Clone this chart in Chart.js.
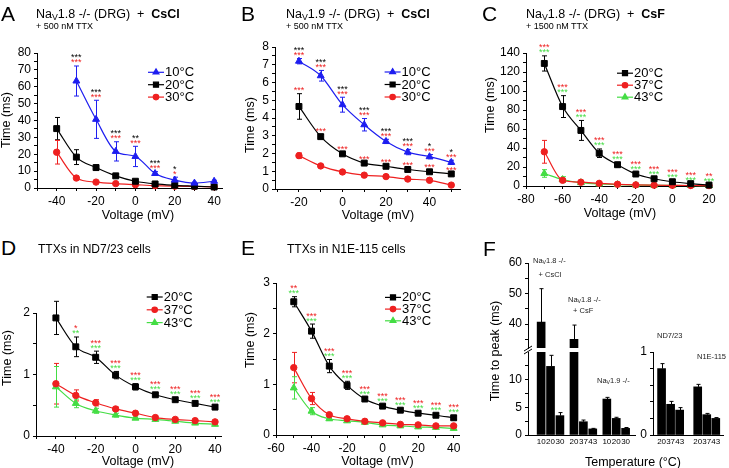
<!DOCTYPE html>
<html>
<head>
<meta charset="utf-8">
<title>Time to peak vs voltage and temperature</title>
<script src="https://cdn.jsdelivr.net/npm/chart.js@4.4.1/dist/chart.umd.min.js"></script>
<style>
  html, body { margin: 0; padding: 0; background: #fff; }
  #fig { position: relative; width: 729px; height: 468px; overflow: hidden;
         font-family: Arial, "Liberation Sans", Helvetica, sans-serif; color: #000; }
  #fig canvas { position: absolute; }
  .txt { position: absolute; white-space: nowrap; line-height: 1; z-index: 2; }
  .txt sub { font-size: 70%; vertical-align: -0.2em; line-height: 0; }
</style>
</head>
<body>
<div id="fig"></div>
<script>
// ---- data (ms, mean and sem) ----
// A: Nav1.8 -/- DRG, CsCl
const voltA10 = [-30, -20, -10, 0, 10, 20, 30, 40];
const voltA = [-40, -30, -20, -10, 0, 10, 20, 30, 40];
const timeA10 = [63.4, 40.7, 21.7, 18.7, 8.6, 4.7, 2.9, 4.0];
const semA10 = [8.9, 11.3, 5.7, 6.0, 1.1, 1.7, 0.6, 0.6];
const timeA20 = [35.2, 18.3, 12.1, 7.2, 4.0, 2.4, 1.6, 1.1, 0.6];
const semA20 = [6.6, 4.4, 1.6, 1.0, 0.6, 0.4, 0.3, 0.2, 0.2];
const timeA30 = [21.2, 5.9, 3.5, 2.6, 2.0, 1.4, 1.1, 0.9, 0.7];
const semA30 = [7.0, 1.1, 0.4, 0.3, 0.3, 0.2, 0.2, 0.2, 0.1];
const starsA10vs20 = ['***', '***', '***', '**', '***', '*', '', ''];
const starsA10vs30 = ['***', '***', '***', '***', '***', '*', '', ''];

// B: Nav1.9 -/- DRG, CsCl
const voltB = [-20, -10, 0, 10, 20, 30, 40, 50];
const timeB10 = [7.2, 6.38, 4.75, 3.62, 2.68, 2.08, 1.82, 1.5];
const semB10 = [0.15, 0.3, 0.42, 0.35, 0.12, 0.15, 0.12, 0.12];
const timeB20 = [4.65, 2.95, 1.98, 1.46, 1.28, 1.1, 0.97, 0.85];
const semB20 = [0.72, 0.12, 0.06, 0.05, 0.05, 0.05, 0.05, 0.05];
const timeB30 = [1.88, 1.3, 0.96, 0.78, 0.7, 0.56, 0.49, 0.22];
const semB30 = [0.15, 0.05, 0.05, 0.05, 0.05, 0.05, 0.05, 0.1];
const starsB10vs20 = ['***', '***', '***', '***', '***', '***', '*', '*'];
const starsB10vs30 = ['***', '***', '***', '***', '***', '***', '***', '***'];
const starsB20vs30 = ['***', '***', '***', '***', '***', '***', '***', '***'];

// C: Nav1.8 -/- DRG, CsF
const voltC = [-70, -60, -50, -40, -30, -20, -10, 0, 10, 20];
const timeC20 = [129, 83.6, 58.5, 34.5, 22.4, 12.6, 7.6, 4.5, 2.5, 1.0];
const semC20 = [8, 11.5, 10.5, 4.5, 2.5, 1.5, 1, 0.8, 0.5, 0.3];
const timeC37 = [36, 6.0, 4.0, 2.8, 1.8, 1.2, 0.9, 0.7, 0.5, 0.4];
const semC37 = [12, 1.5, 0.8, 0.5, 0.3, 0.2, 0.2, 0.1, 0.1, 0.1];
const timeC43 = [13.2, 6.8, 3.5, 2.1, 1.5, 1.0, 0.8, 0.6, 0.5, 0.4];
const semC43 = [4, 3, 0.8, 0.4, 0.3, 0.2, 0.2, 0.1, 0.1, 0.1];
const starsC20vs37 = ['***', '***', '***', '***', '***', '***', '***', '***', '***', '**'];
const starsC20vs43 = ['***', '***', '***', '***', '***', '***', '***', '***', '***', '***'];

// D: TTXs in ND7/23
const voltD = [-40, -30, -20, -10, 0, 10, 20, 30, 40];
const timeD20 = [1.92, 1.45, 1.28, 0.99, 0.8, 0.67, 0.59, 0.53, 0.47];
const semD20 = [0.27, 0.16, 0.1, 0.06, 0.05, 0.03, 0.03, 0.03, 0.03];
const timeD37 = [0.85, 0.66, 0.54, 0.44, 0.37, 0.3, 0.27, 0.25, 0.23];
const semD37 = [0.33, 0.09, 0.05, 0.03, 0.03, 0.03, 0.02, 0.02, 0.02];
const timeD43 = [0.8, 0.53, 0.41, 0.34, 0.29, 0.27, 0.24, 0.21, 0.19];
const semD43 = [0.33, 0.07, 0.04, 0.03, 0.02, 0.02, 0.02, 0.02, 0.02];
const starsD20vs37 = ['', '*', '***', '***', '***', '***', '***', '***', '***'];
const starsD20vs43 = ['', '**', '***', '***', '***', '***', '***', '***', '***'];

// E: TTXs in N1E-115
const voltE = [-50, -40, -30, -20, -10, 0, 10, 20, 30, 40];
const timeE20 = [2.63, 2.05, 1.36, 0.98, 0.71, 0.57, 0.49, 0.43, 0.39, 0.34];
const semE20 = [0.1, 0.14, 0.13, 0.08, 0.03, 0.03, 0.03, 0.03, 0.03, 0.04];
const timeE37 = [1.33, 0.72, 0.4, 0.32, 0.27, 0.24, 0.21, 0.2, 0.18, 0.18];
const semE37 = [0.3, 0.12, 0.03, 0.02, 0.02, 0.02, 0.02, 0.02, 0.02, 0.02];
const timeE43 = [0.93, 0.47, 0.32, 0.28, 0.25, 0.2, 0.18, 0.16, 0.15, 0.13];
const semE43 = [0.22, 0.07, 0.03, 0.02, 0.02, 0.02, 0.02, 0.02, 0.02, 0.02];
const starsE20vs37 = ['**', '***', '***', '***', '***', '***', '***', '***', '***', '***'];
const starsE20vs43 = ['***', '***', '***', '***', '***', '***', '***', '***', '***', '***'];

// F: time to peak per temperature
const tempLeft = ['10', '20', '30', '20', '37', '43', '10', '20', '30'];
const peakLeft = [40.7, 12.4, 3.5, 35, 2.4, 1.1, 6.5, 3.0, 1.2];
const peakLeftSem = [10.9, 2.0, 0.55, 4.7, 0.3, 0.1, 0.3, 0.2, 0.15];
const tempRight = ['20', '37', '43', '20', '37', '43'];
const peakRight = [0.8, 0.37, 0.3, 0.58, 0.245, 0.2];
const peakRightSem = [0.06, 0.035, 0.03, 0.03, 0.015, 0.01];

// tick labels
const range = (a, b, s) => { const out = []; for (let v = a; v <= b + 1e-9; v += s) out.push(Math.round(v * 1000) / 1000); return out; };
const xLabelsA = [-40, -20, 0, 20, 40], yLabelsA = [0, 10, 20, 30, 40, 50, 60, 70, 80];
const xLabelsB = [-20, 0, 20, 40], yLabelsB = [0, 1, 2, 3, 4, 5, 6, 7, 8];
const xLabelsC = [-80, -60, -40, -20, 0, 20], yLabelsC = [0, 20, 40, 60, 80, 100, 120, 140];
const xLabelsD = [-40, -20, 0, 20, 40], yLabelsD = [0, 1, 2];
const xLabelsE = [-60, -40, -20, 0, 20, 40], yLabelsE = [0, 1, 2, 3];
const yLabelsFup = [40, 50, 60], yLabelsFlow = [0, 5, 10], yLabelsFright = [0, 1];

const BLUE = '#1e1ef0', BLACK = '#000000', RED = '#ee2020', GREEN = '#44dd44';
const FONT = 'Arial, "Liberation Sans", sans-serif';

Chart.defaults.font.family = FONT;
Chart.defaults.color = '#000';

const fig = document.getElementById('fig');

function text(html, x, y, size, o) {
  o = o || {};
  const d = document.createElement('div');
  d.className = 'txt';
  d.innerHTML = html;
  d.style.fontSize = size + 'px';
  d.style.left = x + 'px';
  d.style.top = y + 'px';
  let tf = o.center ? 'translate(-50%,-50%)' : 'translate(0,-50%)';
  if (o.rot) tf += ' rotate(-90deg)';
  d.style.transform = tf;
  if (o.color) d.style.color = o.color;
  fig.appendChild(d);
}

function makeCanvas(area, pad) {
  const c = document.createElement('canvas');
  c.width = Math.round(area.r - area.l + pad.l + pad.r);
  c.height = Math.round(area.b - area.t + pad.t + pad.b);
  c.style.left = (area.l - pad.l) + 'px';
  c.style.top = (area.t - pad.t) + 'px';
  fig.appendChild(c);
  return c;
}

function axis(min, max, ticks, labels, size, fontSize, isX, extra) {
  return Object.assign({
    type: 'linear', min: min, max: max, bounds: 'data', offset: false,
    afterBuildTicks: s => { s.ticks = ticks.map(v => ({ value: v })); },
    afterFit: s => { if (isX) s.height = size; else s.width = size; },
    ticks: {
      autoSkip: false, maxRotation: 0, padding: 3, font: { size: fontSize },
      callback: v => labels.some(l => Math.abs(l - v) < 1e-6) ? String(v) : ''
    },
    grid: { drawOnChartArea: false, tickLength: 3, color: '#000' },
    border: { color: '#000', width: 1 }
  }, extra || {});
}

// error bars drawn from each dataset's err array
function errorBars(opt) {
  return {
    id: 'errbars',
    beforeDatasetsDraw(chart) {
      const ctx = chart.ctx, ys = chart.scales.y, a = chart.chartArea;
      ctx.save();
      if (opt.clip) { ctx.beginPath(); ctx.rect(a.left - 20, a.top, a.right - a.left + 40, a.bottom - a.top); ctx.clip(); }
      chart.data.datasets.forEach((ds, di) => {
        const meta = chart.getDatasetMeta(di);
        ctx.strokeStyle = ds.errColor || ds.borderColor;
        ctx.lineWidth = 1;
        meta.data.forEach((el, i) => {
          const v = ds.data[i].y, e = ds.err[i];
          const x = Math.round(el.x) + 0.5;
          const y1 = ys.getPixelForValue(v + e);
          const y0 = ys.getPixelForValue(opt.upOnly ? v : v - e);
          ctx.beginPath();
          ctx.moveTo(x, y0); ctx.lineTo(x, y1);
          ctx.moveTo(x - opt.cap, y1); ctx.lineTo(x + opt.cap, y1);
          if (!opt.upOnly) { ctx.moveTo(x - opt.cap, y0); ctx.lineTo(x + opt.cap, y0); }
          ctx.stroke();
        });
      });
      ctx.restore();
    }
  };
}

function legendAt(dx, dy, gap) {
  return {
    id: 'miniLegend',
    afterDraw(chart) {
      const ctx = chart.ctx, a = chart.chartArea;
      ctx.save();
      chart.data.datasets.forEach((ds, i) => {
        const x = a.left + dx, y = a.top + dy + i * gap;
        ctx.strokeStyle = ds.borderColor; ctx.fillStyle = ds.backgroundColor; ctx.lineWidth = 1.2;
        ctx.beginPath(); ctx.moveTo(x, y); ctx.lineTo(x + 16, y); ctx.stroke();
        Chart.helpers.drawPoint(ctx, { pointStyle: ds.pointStyle, radius: ds.pointRadius * 0.85, borderWidth: 1, rotation: 0 }, x + 8, y);
        ctx.fillStyle = '#000';
        ctx.font = '13px ' + FONT;
        ctx.textBaseline = 'middle'; ctx.textAlign = 'left';
        ctx.fillText(ds.label, x + 17, y + 0.5);
      });
      ctx.restore();
    }
  };
}

// significance marks above a series' error bars
function starsOver(rows) {
  return {
    id: 'stars',
    afterDatasetsDraw(chart) {
      const ctx = chart.ctx, ys = chart.scales.y;
      ctx.save();
      ctx.font = '9px ' + FONT;
      ctx.textAlign = 'center'; ctx.textBaseline = 'alphabetic';
      rows.forEach(r => {
        const ds = chart.data.datasets[r.on], meta = chart.getDatasetMeta(r.on);
        r.text.forEach((t, i) => {
          if (!t) return;
          const top = ys.getPixelForValue(ds.data[i].y + ds.err[i]);
          ctx.fillStyle = r.color;
          ctx.fillText(t, meta.data[i].x, top - r.lift);
        });
      });
      ctx.restore();
    }
  };
}

const PAD = { l: 40, t: 34, r: 18, b: 26 };
const MARK = { triangle: 4, rect: 4.2, circle: 3.2 };

function linePanel(p) {
  const c = makeCanvas(p.area, PAD);
  new Chart(c, {
    type: 'line',
    data: {
      datasets: p.series.map(s => ({
        label: s.label,
        data: s.x.map((v, i) => ({ x: v, y: s.y[i] })),
        err: s.err,
        borderColor: s.color, backgroundColor: s.color,
        pointStyle: s.marker, pointRadius: MARK[s.marker], pointBorderWidth: 1,
        borderWidth: 1.2, cubicInterpolationMode: 'monotone', clip: false
      }))
    },
    options: {
      responsive: false, animation: false, events: [],
      layout: { padding: { left: 0, top: PAD.t, right: PAD.r, bottom: 0 } },
      plugins: { legend: { display: false }, tooltip: { enabled: false } },
      scales: {
        x: axis(p.x.min, p.x.max, p.x.ticks, p.x.labels, PAD.b, 12, true),
        y: axis(p.y.min, p.y.max, p.y.ticks, p.y.labels, PAD.l, 12, false)
      }
    },
    plugins: [errorBars({ clip: false, upOnly: false, cap: 2.5 }), legendAt(p.legend[0], p.legend[1], p.legend[2]), starsOver(p.stars)]
  });
}

const breakMark = {
  id: 'breakMark',
  afterDraw(chart) {
    const ctx = chart.ctx, a = chart.chartArea;
    const x = a.left, y = a.top - 2;
    ctx.save(); ctx.strokeStyle = '#000'; ctx.lineWidth = 1;
    ctx.beginPath();
    [-1.5, 1.5].forEach(d => { ctx.moveTo(x - 4, y + d + 2.5); ctx.lineTo(x + 4, y + d - 2.5); });
    ctx.stroke(); ctx.restore();
  }
};

function barPanel(p) {
  const pad = { l: p.padL, t: 12, r: 12, b: 26 };
  const c = makeCanvas(p.area, pad);
  new Chart(c, {
    type: 'bar',
    data: {
      datasets: [{
        data: p.x.map((v, i) => ({ x: v, y: p.y[i] })),
        err: p.err, errColor: '#000',
        backgroundColor: '#000', borderWidth: 0, barThickness: 8, clip: 0
      }]
    },
    options: {
      responsive: false, animation: false, events: [],
      layout: { padding: { left: 0, top: pad.t, right: pad.r, bottom: p.showX ? 0 : pad.b } },
      plugins: { legend: { display: false }, tooltip: { enabled: false } },
      scales: {
        x: p.showX ? axis(p.xmin, p.xmax, p.x, [], pad.b, 8, true, {
          ticks: { autoSkip: false, maxRotation: 0, minRotation: 0, padding: 2, font: { size: 8 }, callback: (v, i) => p.labels[i] },
          grid: { display: false, drawTicks: false, tickLength: 0 }
        }) : { type: 'linear', display: false, min: p.xmin, max: p.xmax, offset: false },
        y: axis(p.ymin, p.ymax, p.yticks, p.ylabels, pad.l, 12, false)
      }
    },
    plugins: [errorBars({ clip: true, upOnly: true, cap: 2 })].concat(p.extra || [])
  });
}

// ---- panels ----
linePanel({
  area: { l: 37, r: 221.5, t: 52.7, b: 187.5 },
  x: { min: -50, max: 44, ticks: range(-50, 40, 10), labels: xLabelsA },
  y: { min: 0, max: 80, ticks: range(0, 80, 5), labels: yLabelsA },
  series: [
    { label: '10°C', x: voltA10, y: timeA10, err: semA10, color: BLUE, marker: 'triangle' },
    { label: '20°C', x: voltA, y: timeA20, err: semA20, color: BLACK, marker: 'rect' },
    { label: '30°C', x: voltA, y: timeA30, err: semA30, color: RED, marker: 'circle' }
  ],
  legend: [111, 19.3, 12.4],
  stars: [{ on: 0, text: starsA10vs20, color: BLACK, lift: 5.5 }, { on: 0, text: starsA10vs30, color: RED, lift: 0.5 }]
});

linePanel({
  area: { l: 275.4, r: 460.4, t: 46.7, b: 188.7 },
  x: { min: -31, max: 54, ticks: range(-30, 50, 10), labels: xLabelsB },
  y: { min: 0, max: 8, ticks: range(0, 8, 0.5), labels: yLabelsB },
  series: [
    { label: '10°C', x: voltB, y: timeB10, err: semB10, color: BLUE, marker: 'triangle' },
    { label: '20°C', x: voltB, y: timeB20, err: semB20, color: BLACK, marker: 'rect' },
    { label: '30°C', x: voltB, y: timeB30, err: semB30, color: RED, marker: 'circle' }
  ],
  legend: [109.6, 25, 12.5],
  stars: [{ on: 0, text: starsB10vs20, color: BLACK, lift: 5.5 }, { on: 0, text: starsB10vs30, color: RED, lift: 0.5 },
          { on: 1, text: starsB20vs30, color: RED, lift: 0.5 }]
});

linePanel({
  area: { l: 525.7, r: 708.3, t: 52.5, b: 185.5 },
  x: { min: -80, max: 20, ticks: range(-80, 20, 10), labels: xLabelsC },
  y: { min: 0, max: 140, ticks: range(0, 140, 10), labels: yLabelsC },
  series: [
    { label: '20°C', x: voltC, y: timeC20, err: semC20, color: BLACK, marker: 'rect' },
    { label: '37°C', x: voltC, y: timeC37, err: semC37, color: RED, marker: 'circle' },
    { label: '43°C', x: voltC, y: timeC43, err: semC43, color: GREEN, marker: 'triangle' }
  ],
  legend: [91, 20.2, 12],
  stars: [{ on: 0, text: starsC20vs37, color: RED, lift: 5.5 }, { on: 0, text: starsC20vs43, color: GREEN, lift: 0.5 }]
});

linePanel({
  area: { l: 36, r: 221, t: 312.7, b: 435.3 },
  x: { min: -50, max: 43, ticks: range(-50, 40, 10), labels: xLabelsD },
  y: { min: 0, max: 2, ticks: range(0, 2, 0.5), labels: yLabelsD },
  series: [
    { label: '20°C', x: voltD, y: timeD20, err: semD20, color: BLACK, marker: 'rect' },
    { label: '37°C', x: voltD, y: timeD37, err: semD37, color: RED, marker: 'circle' },
    { label: '43°C', x: voltD, y: timeD43, err: semD43, color: GREEN, marker: 'triangle' }
  ],
  legend: [110.7, -16, 12.8],
  stars: [{ on: 0, text: starsD20vs37, color: RED, lift: 5.5 }, { on: 0, text: starsD20vs43, color: GREEN, lift: 0.5 }]
});

linePanel({
  area: { l: 276, r: 458.6, t: 283.3, b: 435.7 },
  x: { min: -60, max: 43, ticks: range(-60, 40, 10), labels: xLabelsE },
  y: { min: 0, max: 3, ticks: range(0, 3, 0.5), labels: yLabelsE },
  series: [
    { label: '20°C', x: voltE, y: timeE20, err: semE20, color: BLACK, marker: 'rect' },
    { label: '37°C', x: voltE, y: timeE37, err: semE37, color: RED, marker: 'circle' },
    { label: '43°C', x: voltE, y: timeE43, err: semE43, color: GREEN, marker: 'triangle' }
  ],
  legend: [109, 14.4, 11.7],
  stars: [{ on: 0, text: starsE20vs37, color: RED, lift: 5.5 }, { on: 0, text: starsE20vs43, color: GREEN, lift: 0.5 }]
});

// F: bar slots, groups of three with a gap between groups
const slotLeft = tempLeft.map((_, i) => Math.floor(i / 3) * 3.5 + (i % 3) + 1);
const slotRight = tempRight.map((_, i) => Math.floor(i / 3) * 4 + (i % 3) + 1);

barPanel({ area: { l: 527.7, r: 635, t: 263.3, b: 348 }, padL: 40, showX: false,
  x: slotLeft, xmin: -0.4, xmax: 11, y: peakLeft, err: peakLeftSem,
  ymin: 32.2, ymax: 60, yticks: [35, 40, 45, 50, 55, 60], ylabels: yLabelsFup });
barPanel({ area: { l: 527.7, r: 635, t: 351.6, b: 435 }, padL: 40, showX: true,
  x: slotLeft, labels: tempLeft, xmin: -0.4, xmax: 11, y: peakLeft, err: peakLeftSem,
  ymin: 0, ymax: 15, yticks: [0, 2.5, 5, 7.5, 10, 12.5], ylabels: yLabelsFlow, extra: [breakMark] });
barPanel({ area: { l: 653.3, r: 723, t: 351.7, b: 435 }, padL: 20, showX: true,
  x: slotRight, labels: tempRight, xmin: 0.05, xmax: 7.8, y: peakRight, err: peakRightSem,
  ymin: 0, ymax: 1, yticks: [0, 0.2, 0.4, 0.6, 0.8, 1], ylabels: yLabelsFright });

// ---- text ----
[['A', 1, 12.5], ['B', 241, 12.5], ['C', 482, 12.5], ['D', 1, 246.5], ['E', 241, 246.5], ['F', 483, 247.5]]
  .forEach(t => text(t[0], t[1], t[2], 21));

text('Na<sub>V</sub>1.8 -/- (DRG)&nbsp;&nbsp;+&nbsp;&nbsp;<b>CsCl</b>', 36, 14, 12.5);
text('+ 500 nM TTX', 36, 25.5, 9);
text('Na<sub>V</sub>1.9 -/- (DRG)&nbsp;&nbsp;+&nbsp;&nbsp;<b>CsCl</b>', 286, 14, 12.5);
text('+ 500 nM TTX', 286, 25.5, 9);
text('Na<sub>V</sub>1.8 -/- (DRG)&nbsp;&nbsp;+&nbsp;&nbsp;<b>CsF</b>', 526, 14, 12.5);
text('+ 1500 nM TTX', 526, 25.5, 9);
text('TTXs in ND7/23 cells', 38, 248.5, 12);
text('TTXs in N1E-115 cells', 287, 248.5, 12);

[[138, 214.5], [378, 215], [620, 212.5], [138, 461], [377.5, 461]]
  .forEach(p => text('Voltage (mV)', p[0], p[1], 12.5, { center: true }));
[[6, 120], [250, 125], [490, 105], [7, 358], [250, 340]]
  .forEach(p => text('Time (ms)', p[0], p[1], 12.5, { center: true, rot: true }));
text('Time to peak (ms)', 495, 351, 12.5, { center: true, rot: true });
text('Temperature (°C)', 633, 462, 12.5, { center: true });

text('Na<sub>V</sub>1.8 -/-', 533, 261, 7.5, { color: '#222' });
text('+ CsCl', 538.5, 274.5, 7.5, { color: '#222' });
text('Na<sub>V</sub>1.8 -/-', 568, 300, 7.5, { color: '#222' });
text('+ CsF', 573, 311, 7.5, { color: '#222' });
text('Na<sub>V</sub>1.9 -/-', 597, 381, 7.5, { color: '#222' });
text('ND7/23', 657, 336, 7.5, { color: '#222' });
text('N1E-115', 697, 357, 7.5, { color: '#222' });
</script>
</body>
</html>
